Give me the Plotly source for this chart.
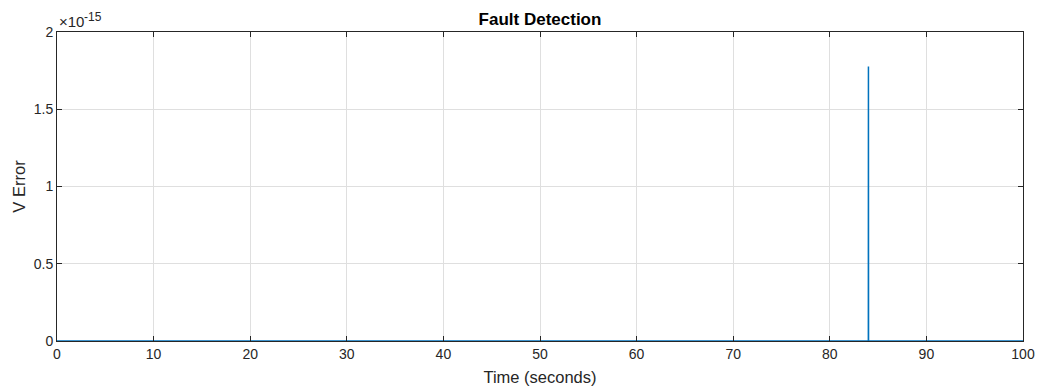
import plotly.graph_objects as go

time_s = [0, 83.99, 84, 84.01, 100]
v_error = [0, 0, 1.776e-15, 0, 0]

x_ticks = [0, 10, 20, 30, 40, 50, 60, 70, 80, 90, 100]
y_ticks = [0, 0.5e-15, 1e-15, 1.5e-15, 2e-15]
y_tick_text = ["0", "0.5", "1", "1.5", "2"]

axis_col = "#262626"
font = "Liberation Sans, Arial, sans-serif"

fig = go.Figure()
fig.add_trace(go.Scatter(x=time_s, y=v_error, mode="lines",
                         line=dict(color="#0072BD", width=1.5),
                         showlegend=False, hoverinfo="skip"))

fig.update_layout(
    width=1042, height=391,
    margin=dict(l=57, r=19, t=32, b=50, autoexpand=False),
    paper_bgcolor="white", plot_bgcolor="white",
    font=dict(family=font, size=14, color=axis_col),
    title=dict(text="<b>Fault Detection</b>", x=0.5, xref="paper", xanchor="center",
               y=1 - 19/391, yanchor="middle",
               font=dict(family=font, size=17, color="black")),
)
fig.update_xaxes(range=[0, 100], tickvals=x_ticks, ticks="inside", ticklen=5,
                 tickcolor=axis_col, showline=True, linecolor=axis_col, linewidth=1,
                 mirror="ticks", showgrid=True, gridcolor="#dfdfdf", gridwidth=1,
                 zeroline=False, automargin=False,
                 tickfont=dict(family=font, size=14, color=axis_col),
                 title=dict(text="Time (seconds)", standoff=10,
                            font=dict(family=font, size=16.5, color=axis_col)))
fig.update_yaxes(range=[0, 2e-15], tickvals=y_ticks, ticktext=y_tick_text,
                 ticks="inside", ticklen=5, tickcolor=axis_col, showline=True,
                 linecolor=axis_col, linewidth=1, mirror="ticks", showgrid=True,
                 gridcolor="#dfdfdf", gridwidth=1, zeroline=False, automargin=False,
                 tickfont=dict(family=font, size=14, color=axis_col),
                 title=dict(text="V Error", standoff=3,
                            font=dict(family=font, size=16.5, color=axis_col)))

fig.add_annotation(text="×10", xref="paper", yref="paper",
                   x=0.001, y=1.0324, xanchor="left", yanchor="middle",
                   showarrow=False, borderpad=0,
                   font=dict(family=font, size=15, color=axis_col))
fig.add_annotation(text="-15", xref="paper", yref="paper",
                   x=0.0269, y=1.0485, xanchor="left", yanchor="middle",
                   showarrow=False, borderpad=0,
                   font=dict(family=font, size=12, color=axis_col))

fig.write_html("out.html")
